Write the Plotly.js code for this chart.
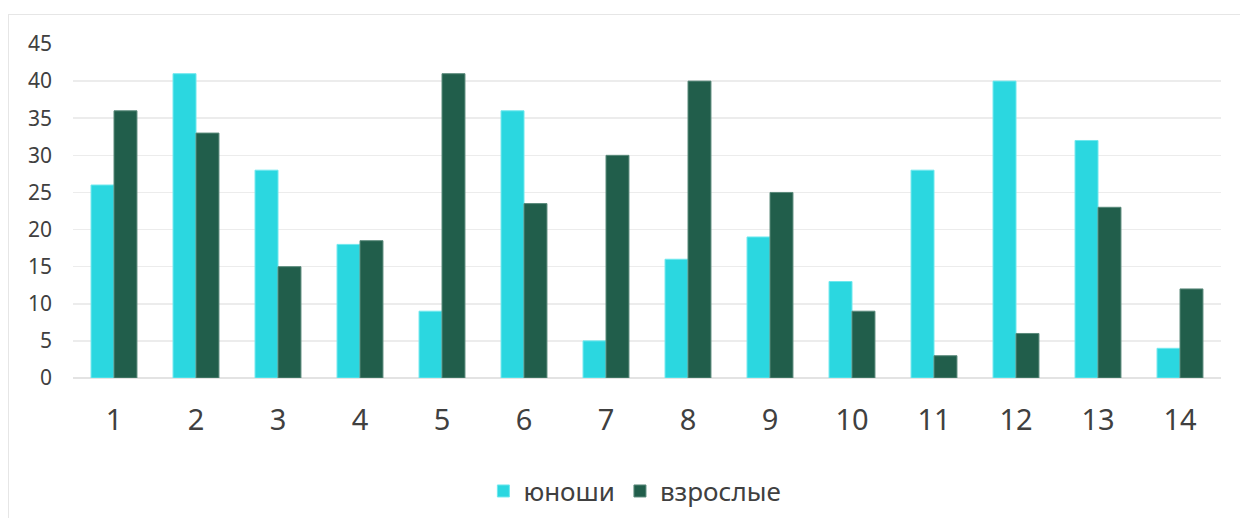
<!DOCTYPE html>
<html>
<head>
<meta charset="utf-8">
<script src="https://cdn.plot.ly/plotly-3.0.1.min.js"></script>
<style>
html,body{margin:0;padding:0;background:#fff;}
#frame{position:absolute;left:8px;top:14px;width:1240px;height:520px;border:1.5px solid #e6e6e6;box-sizing:border-box;}
#chart{position:absolute;left:0;top:0;width:1240px;height:518px;}
</style>
</head>
<body>
<div id="frame"></div>
<div id="chart"></div>
<script>
const categories = ['1','2','3','4','5','6','7','8','9','10','11','12','13','14'];
const youthName = 'юноши';
const adultName = 'взрослые';
const youth = [26, 41, 28, 18, 9, 36, 5, 16, 19, 13, 28, 40, 32, 4];
const adults = [36, 33, 15, 18.5, 41, 23.5, 30, 40, 25, 9, 3, 6, 23, 12];
const yTicks = [0, 5, 10, 15, 20, 25, 30, 35, 40, 45];

const font = '"Noto Sans", "Open Sans", sans-serif';
const traces = [
  {type:'bar', name: youthName, x: categories, y: youth,
   marker:{color:'#2bd7e0', line:{color:'#6fe8ee', width:1}}},
  {type:'bar', name: adultName, x: categories, y: adults,
   marker:{color:'#215e4b', line:{color:'#5a8a7b', width:1}}}
];
const layout = {
  width:1240, height:518,
  paper_bgcolor:'rgba(0,0,0,0)', plot_bgcolor:'rgba(0,0,0,0)',
  margin:{l:73, r:19, t:44, b:140},
  barmode:'group', bargap:0.44, bargroupgap:0,
  showlegend:true,
  legend:{orientation:'h', xref:'container', yref:'container', x:0.512, xanchor:'center', y:0.052, yanchor:'middle',
          font:{family:font, size:26, color:'#404040'}, itemwidth:30, tracegroupgap:0},
  xaxis:{type:'category', automargin:false, tickfont:{family:font, size:29, color:'#404040'},
         showgrid:false, zeroline:false, showline:false, ticks:'', ticklabelstandoff:22},
  yaxis:{range:[0,45], automargin:false, tickvals:yTicks, ticktext:yTicks.map(String),
         tickfont:{family:font, size:21, color:'#404040'},
         showgrid:true, gridcolor:'#ececec', gridwidth:1.5,
         zeroline:true, zerolinecolor:'#e3e3e3', zerolinewidth:1.5,
         showline:false, ticks:'', ticklabelstandoff:20}
};
Plotly.newPlot('chart', traces, layout, {displayModeBar:false, staticPlot:true});
</script>
</body>
</html>
